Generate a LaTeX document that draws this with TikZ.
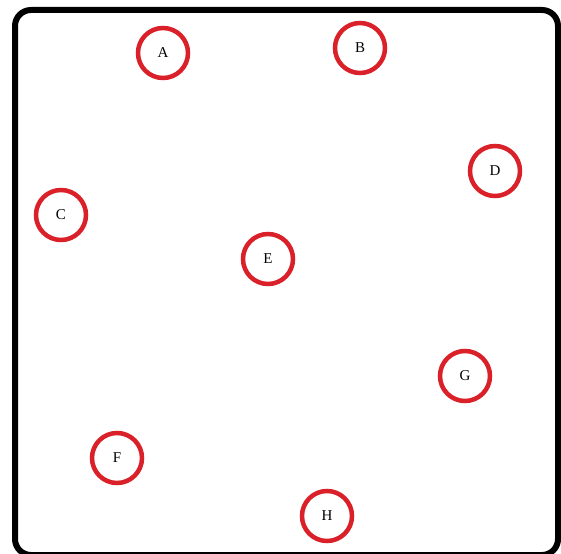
\documentclass[tikz,border=0pt]{standalone}
\usepackage{fontspec}
\setmainfont{Liberation Serif}
\definecolor{ringred}{RGB}{218,32,40}
\begin{document}
\begin{tikzpicture}[x=1pt,y=-1pt,
  vertex/.style={circle,draw=ringred,line width=4.5pt,minimum size=50pt,inner sep=0pt,font=\fontsize{15}{15}\selectfont}]
\useasboundingbox (0,0) rectangle (561,553);
\draw[line width=6pt,rounded corners=16pt] (15,10) rectangle (558,555);
\node[vertex] (A) at (163,53) {A};
\node[vertex] (B) at (360,48) {B};
\node[vertex] (C) at (61,215) {C};
\node[vertex] (D) at (495,171) {D};
\node[vertex] (E) at (268,259) {E};
\node[vertex] (F) at (117,458) {F};
\node[vertex] (G) at (465,376) {G};
\node[vertex] (H) at (327,516) {H};
\end{tikzpicture}
\end{document}
